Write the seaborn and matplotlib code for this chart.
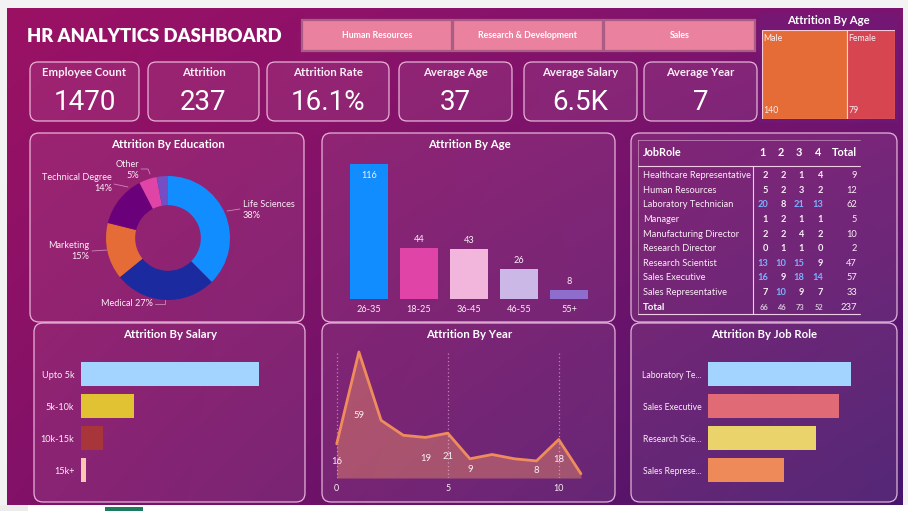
import numpy as np
import pandas as pd
import matplotlib
matplotlib.use("Agg")
import matplotlib.pyplot as plt
import seaborn as sns
from matplotlib.patches import FancyBboxPatch, Rectangle

# ---------------- data ----------------
departments = ["Human Resources", "Research & Development", "Sales"]
kpi_labels = ["Employee Count", "Attrition", "Attrition Rate", "Average Age", "Average Salary", "Average Year"]
kpi_values = ["1470", "237", "16.1%", "37", "6.5K", "7"]

gender = ["Male", "Female"]
gender_vals = [140, 79]

edu_fields = ["Life Sciences", "Medical", "Marketing", "Technical Degree", "Other", "Human Resources"]
edu_vals = [89, 63, 35, 32, 11, 7]

age_groups = ["26-35", "18-25", "36-45", "46-55", "55+"]
age_vals = [116, 44, 43, 26, 8]

salary_bands = ["Upto 5k", "5k-10k", "10k-15k", "15k+"]
salary_vals = [163, 49, 20, 5]

years = [0, 1, 2, 3, 4, 5, 6, 7, 8, 9, 10, 11]
year_vals = [16, 59, 27, 20, 19, 21, 9, 11, 9, 8, 18, 2]
labelled_years = [0, 1, 4, 5, 6, 9, 10]

role_labels = ["Laboratory Te...", "Sales Executive", "Research Scie...", "Sales Represe..."]
role_vals = [62, 57, 47, 33]

table_roles = ["Healthcare Representative", "Human Resources", "Laboratory Technician", "Manager",
               "Manufacturing Director", "Research Director", "Research Scientist", "Sales Executive",
               "Sales Representative"]
table_cols = ["1", "2", "3", "4"]
table_vals = [[2, 2, 1, 4], [5, 2, 3, 2], [20, 8, 21, 13], [1, 2, 1, 1], [2, 2, 4, 2],
              [0, 1, 1, 0], [13, 10, 15, 9], [16, 9, 18, 14], [7, 10, 9, 7]]

# ---------------- style ----------------
sns.set_theme(style="white")
plt.rcParams['font.family'] = ['Lato', 'DejaVu Sans']

W, H = 908, 511
fig = plt.figure(figsize=(W / 100, H / 100), dpi=100)
fig.patch.set_facecolor("#f3f3f3")
bg = fig.add_axes([0, 0, 1, 1])
bg.set_xlim(0, W)
bg.set_ylim(H, 0)
bg.axis("off")

TXT = "#fbeef6"
EDGE = (1.0, 0.85, 0.95, 0.8)

# gradient background
nx, ny = 200, 120
X, Y = np.meshgrid(np.linspace(0, 1, nx), np.linspace(0, 1, ny))
TL = np.array([155, 17, 100]) / 255
TR = np.array([122, 20, 112]) / 255
BL = np.array([130, 17, 104]) / 255
BR = np.array([70, 22, 108]) / 255
grad = (TL * ((1 - X) * (1 - Y))[..., None] + TR * (X * (1 - Y))[..., None]
        + BL * ((1 - X) * Y)[..., None] + BR * (X * Y)[..., None])
bg.imshow(grad, extent=(7, 903, 505, 8), aspect="auto", zorder=0, interpolation="bilinear")
bg.add_patch(Rectangle((0, 505), W, 6, fc="white", ec="none", zorder=1))
bg.add_patch(Rectangle((0, 505), 28, 6, fc="#ececec", ec="none", zorder=1))
bg.add_patch(Rectangle((105, 507), 38, 4, fc="#1f7a5f", ec="none", zorder=2))


def panel(x0, y0, x1, y1, r=9, fc=(1, 1, 1, 0.08)):
    bg.add_patch(FancyBboxPatch((x0, y0), x1 - x0, y1 - y0,
                                boxstyle=f"round,pad=0,rounding_size={r}",
                                fc=fc, ec=EDGE, lw=0.9, zorder=2))


def ax_px(x0, y0, x1, y1):
    a = fig.add_axes([x0 / W, 1 - y1 / H, (x1 - x0) / W, (y1 - y0) / H])
    a.set_facecolor("none")
    for s in a.spines.values():
        s.set_visible(False)
    return a


# title
bg.text(27, 36, "HR ANALYTICS DASHBOARD", color="white", fontsize=13.3, weight="heavy",
        ha="left", va="center", zorder=3)

# department buttons
btn_x = [(302, 452), (453, 603), (604, 755)]
for (x0, x1), name in zip(btn_x, departments):
    bg.add_patch(Rectangle((x0, 20), x1 - x0, 31, fc="#e9819f", ec="#a95c84", lw=1.6, zorder=3))
    bg.text((x0 + x1) / 2, 36, name, color="white", fontsize=6.3, weight="bold",
            ha="center", va="center", zorder=4)

# KPI cards
kpi_x = [(30, 139), (148, 259), (267, 389), (399, 512), (524, 637), (644, 757)]
for (x0, x1), lab, val in zip(kpi_x, kpi_labels, kpi_values):
    panel(x0, 62, x1, 121, r=8)
    bg.text((x0 + x1) / 2, 73, lab, color=TXT, fontsize=8.2, weight="bold",
            ha="center", va="center", zorder=4)
    bg.text((x0 + x1) / 2, 103, val, color="white", fontsize=20, family=["Roboto", "DejaVu Sans"],
            ha="center", va="center", zorder=4)

# treemap (gender)
bg.add_patch(Rectangle((758, 13), 140, 110, fc=(0.42, 0.12, 0.5, 0.35), ec="none", zorder=2))
bg.text(828, 20, "Attrition By Age", color="white", fontsize=8.2, weight="bold",
        ha="center", va="center", zorder=4)
tax = ax_px(762, 30, 895, 119)
left = np.concatenate([[0], np.cumsum(gender_vals)[:-1]])
tax.barh([0, 0], gender_vals, left=left, height=1, color=["#e66c37", "#d64550"],
         edgecolor=(1, 0.85, 0.9, 0.9), linewidth=0.8)
tax.set_xlim(0, sum(gender_vals))
tax.set_ylim(0.5, -0.5)
tax.set_xticks([]); tax.set_yticks([])
for l, v, g in zip(left, gender_vals, gender):
    tax.text(l + 2, -0.46, g, color=TXT, fontsize=6.3, ha="left", va="top")
    tax.text(l + 2, 0.46, str(v), color=TXT, fontsize=6.3, ha="left", va="bottom")

# ---------------- chart panels ----------------
panel(30, 133, 304, 322)
panel(322, 133, 615, 322)
panel(631, 133, 897, 322)
panel(34, 323, 305, 502)
panel(322, 323, 615, 502)
panel(631, 323, 897, 502)

titles = [(168, 144, "Attrition By Education"), (469, 144, "Attrition By Age"),
          (170, 334, "Attrition By Salary"), (469, 334, "Attrition By Year"),
          (764, 334, "Attrition By Job Role")]
for x, y, t in titles:
    bg.text(x, y, t, color="white", fontsize=8.2, weight="bold", ha="center", va="center", zorder=4)

# donut
cx, cy, R = 168, 238, 62
dax = ax_px(cx - 70, cy - 70, cx + 70, cy + 70)
edu_colors = ["#118dff", "#1b2a9e", "#e66c37", "#6b007b", "#e044a7", "#744ec2"]
dax.pie(edu_vals, colors=edu_colors, startangle=90, counterclock=False,
        wedgeprops=dict(width=0.47, edgecolor="none"))
dax.set_xlim(-70 / R, 70 / R)
dax.set_ylim(-70 / R, 70 / R)
pct = [round(v / sum(edu_vals) * 100) for v in edu_vals]
label_layout = {
    "Life Sciences": (243, 210, "left", [(227, 211), (240, 209)]),
    "Medical": (153, 304, "right", [(155, 304), (165, 304), (165, 298)]),
    "Marketing": (89, 251, "right", [(92, 251), (107, 250)]),
    "Technical Degree": (112, 183, "right", [(114, 184), (128, 187)]),
    "Other": (139, 170, "right", [(141, 169), (148, 169), (150, 174)]),
}
for name, p in zip(edu_fields, pct):
    if name not in label_layout:
        continue
    lx, ly, ha, pts = label_layout[name]
    s = f"{name} {p}%" if name == "Medical" else f"{name}\n{p}%"
    bg.text(lx, ly, s, color=TXT, fontsize=6.6, ha=ha, va="center", linespacing=1.25,
            multialignment=ha, zorder=5)
    xs, ys = zip(*pts)
    bg.plot(xs, ys, color=(0.9, 0.7, 0.85, 0.7), lw=0.6, zorder=5)

# age bars
aax = ax_px(344, 164, 594, 299)
age_df = pd.DataFrame({"age": age_groups, "n": age_vals})
age_colors = ["#118dff", "#e044a7", "#f2b6dc", "#cbb8e6", "#8f6dcc"]
sns.barplot(data=age_df, x="age", y="n", hue="age", palette=age_colors, legend=False,
            saturation=1, width=0.76, linewidth=0, edgecolor="none", ax=aax)
aax.set_ylim(0, 116)
aax.set_xlim(-0.5, 4.5)
aax.set_xlabel(""); aax.set_ylabel(""); aax.set_yticks([])
aax.tick_params(axis="x", length=0, pad=4, labelsize=6.6, labelcolor=TXT)
for i, v in enumerate(age_vals):
    if v > 100:
        aax.text(i, v - 9.5, str(v), color=TXT, fontsize=6.6, ha="center", va="center")
    else:
        aax.text(i, v + 7, str(v), color=TXT, fontsize=6.6, ha="center", va="center", clip_on=False)

# table
line_c = (1, 0.88, 0.95, 0.9)
bg.plot([638, 860], [166, 166], color=line_c, lw=0.8, zorder=4)
bg.plot([638, 860], [314, 314], color=line_c, lw=0.8, zorder=4)
bg.plot([753, 753], [166, 314], color=line_c, lw=0.8, zorder=4)
bg.plot([638, 638], [140, 314], color=(1, 0.88, 0.95, 0.5), lw=0.6, zorder=4)
bg.plot([638, 860], [140, 140], color=(1, 0.88, 0.95, 0.5), lw=0.6, zorder=4)
col_right = [768, 786, 804, 823]
total_right = 857
bg.text(643, 152, "JobRole", color="white", fontsize=7.8, weight="bold", ha="left", va="center", zorder=5)
for c, xr in zip(table_cols, col_right):
    bg.text(xr - 2, 152, c, color="white", fontsize=7.8, weight="bold", ha="right", va="center", zorder=5)
bg.text(total_right, 152, "Total", color="white", fontsize=7.8, weight="bold", ha="right", va="center", zorder=5)
row_y0, row_dy = 175.7, 14.6
for r, (role, vals) in enumerate(zip(table_roles, table_vals)):
    y = row_y0 + r * row_dy
    bg.text(643, y, role, color=TXT, fontsize=6.7, ha="left", va="center", zorder=5)
    for v, xr in zip(vals, col_right):
        col = "#7ab2ff" if v >= 10 else TXT
        bg.text(xr, y, str(v), color=col, fontsize=6.7, weight="bold", ha="right", va="center", zorder=5)
    bg.text(total_right, y, str(sum(vals)), color=TXT, fontsize=6.7, ha="right", va="center", zorder=5)
y = row_y0 + len(table_roles) * row_dy
col_tot = np.array(table_vals).sum(axis=0)
bg.text(643, y, "Total", color="white", fontsize=6.9, weight="bold", ha="left", va="center", zorder=5)
for v, xr in zip(col_tot, col_right):
    bg.text(xr, y, str(v), color="#d8c4d8", fontsize=5.4, weight="bold", ha="right", va="center", zorder=5)
bg.text(total_right, y, str(col_tot.sum()), color=TXT, fontsize=6.9, ha="right", va="center", zorder=5)

# salary bars
sax = ax_px(80.7, 358, 290, 486)
sal_df = pd.DataFrame({"band": salary_bands, "n": salary_vals})
sns.barplot(data=sal_df, y="band", x="n", hue="band",
            palette=["#a3d3ff", "#e0c232", "#a7353a", "#fdc6b2"], legend=False,
            saturation=1, width=0.75, orient="h", linewidth=0, edgecolor="none", ax=sax)
sax.set_xlim(0, (290 - 80.7) / (178 / 163))
sax.set_ylim(3.5, -0.5)
sax.set_xlabel(""); sax.set_ylabel(""); sax.set_xticks([])
sax.tick_params(axis="y", length=0, pad=4.5, labelsize=6.6, labelcolor=TXT)

# year area
yax = ax_px(330, 340, 600, 478)
px_per_year = 22.2
yax.set_xlim((330 - 336.7) / px_per_year, (600 - 336.7) / px_per_year)
yax.set_ylim(0, 138 / (126 / 59))
for g in [0, 5, 10]:
    yax.plot([g, g], [0, 59], color=(1, 0.8, 0.95, 0.55), lw=0.9, ls=(0, (1, 2)))
yax.fill_between(years, year_vals, color="#f0946a", alpha=0.42, lw=0)
sns.lineplot(x=years, y=year_vals, color="#ef8c5c", lw=2, ax=yax)
for yr in labelled_years:
    v = year_vals[yr]
    yax.text(yr, v * 0.5 - 0.3, str(v), color=TXT, fontsize=6.8, ha="center", va="center")
yax.set_xticks([0, 5, 10])
yax.set_yticks([])
yax.tick_params(axis="x", length=0, pad=4, labelsize=6.4, labelcolor=TXT)
yax.set_xlabel(""); yax.set_ylabel("")

# job role bars
jax = ax_px(708, 358, 885, 486)
role_df = pd.DataFrame({"role": role_labels, "n": role_vals})
sns.barplot(data=role_df, y="role", x="n", hue="role",
            palette=["#a3d3ff", "#e06b76", "#e9d36a", "#ee8a5a"], legend=False,
            saturation=1, width=0.75, orient="h", linewidth=0, edgecolor="none", ax=jax)
jax.set_xlim(0, (885 - 708) / (142.7 / 62))
jax.set_ylim(3.5, -0.5)
jax.set_xlabel(""); jax.set_ylabel(""); jax.set_xticks([])
jax.tick_params(axis="y", length=0, pad=4.5, labelsize=6.2, labelcolor=TXT)

fig.savefig("out.png", dpi=100, facecolor=fig.get_facecolor())
